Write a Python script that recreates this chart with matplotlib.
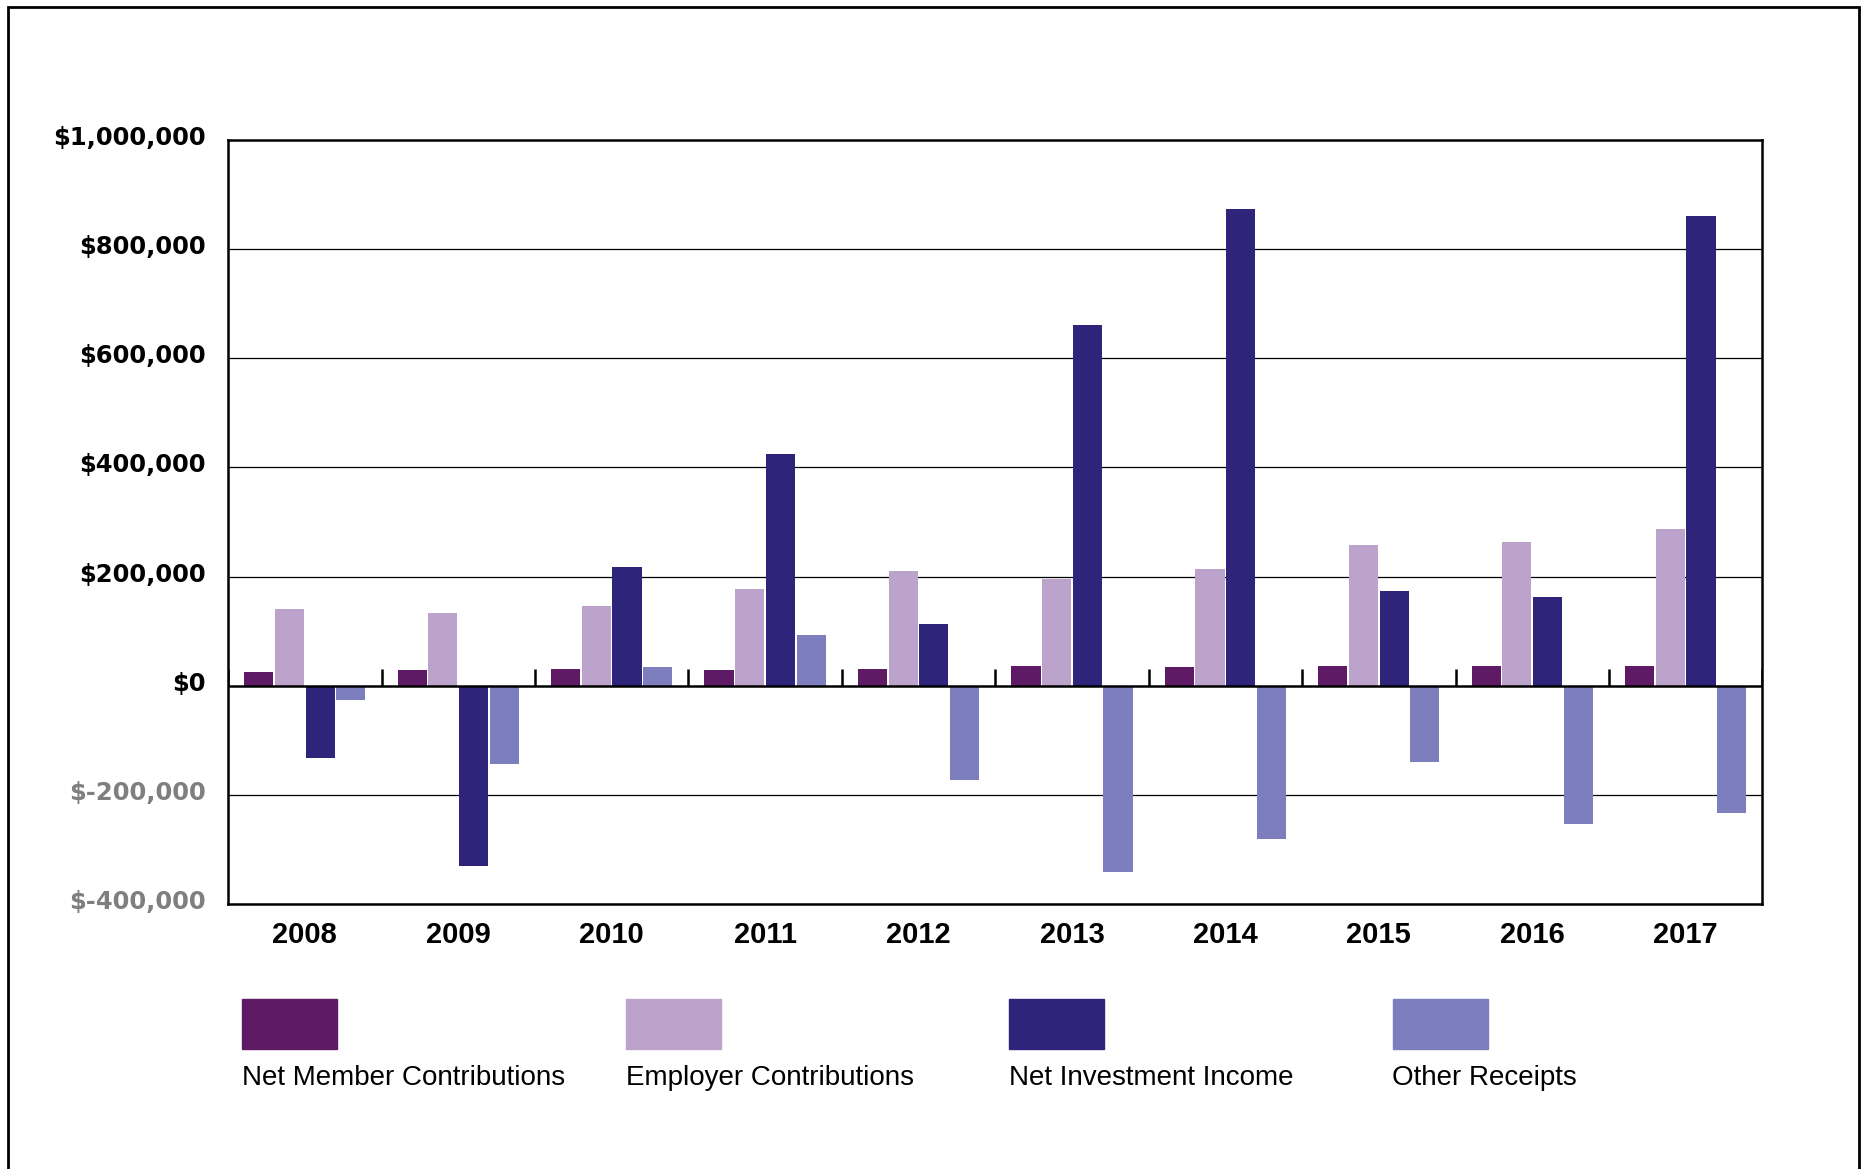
import matplotlib.pyplot as plt
from matplotlib.patches import Rectangle
import numpy as np

# data
years = ['2008', '2009', '2010', '2011', '2012', '2013', '2014', '2015', '2016', '2017']
net_member = [26000, 28000, 30000, 28000, 30000, 37000, 35000, 37000, 37000, 37000]
employer = [141000, 133000, 146000, 178000, 211000, 196000, 213000, 257000, 263000, 287000]
net_investment = [-133000, -330000, 217000, 424000, 113000, 661000, 874000, 174000, 163000, 861000]
other_receipts = [-26000, -143000, 35000, 93000, -172000, -341000, -280000, -139000, -254000, -233000]

series_names = ['Net Member Contributions', 'Employer Contributions',
                'Net Investment Income', 'Other Receipts']
series_colors = ['#5e1a64', '#bba3cc', '#2e247a', '#7c7ebe']
series_vals = [net_member, employer, net_investment, other_receipts]

y_ticks = [-400000, -200000, 0, 200000, 400000, 600000, 800000, 1000000]

fig = plt.figure(figsize=(18.62, 11.69), dpi=100)
ax = fig.add_axes([0.1225, 0.2267, 0.824, 0.6535])

x = np.arange(len(years))
w = 0.19
for k, (vals, col) in enumerate(zip(series_vals, series_colors)):
    ax.bar(x + (k - 1.5) * 0.2, vals, width=w, color=col, zorder=3)

ax.set_xlim(-0.5, len(years) - 0.5)
ax.set_ylim(-400000, 1000000)

# gridlines
for t in y_ticks[1:-1]:
    if t == 0:
        ax.axhline(0, color='black', lw=1.8, zorder=4)
    else:
        ax.axhline(t, color='black', lw=0.9, zorder=1)

# category separators on the zero line
ax.vlines(np.arange(len(years) + 1) - 0.5, 0, 30000, color='black', lw=1.8, zorder=4)

for s in ax.spines.values():
    s.set_linewidth(1.8)

# y labels written as text so they can sit a touch above the gridlines
ax.set_yticks(y_ticks)
ax.set_yticklabels([])
ax.tick_params(axis='y', length=0)
for t in y_ticks:
    ax.annotate('$' + format(t, ','), xy=(0, t), xycoords=('axes fraction', 'data'),
                xytext=(-16, 1.5), textcoords='offset points', ha='right', va='center',
                fontsize=17.5, fontweight='bold', family='DejaVu Sans',
                color='#7f7f7f' if t < 0 else 'black')

ax.set_xticks(x)
ax.set_xticklabels(years, fontsize=21, fontweight='bold', family='Liberation Sans')
ax.tick_params(axis='x', length=0, pad=12)

# legend drawn below the chart
for k, (name, col) in enumerate(zip(series_names, series_colors)):
    x0 = 242 / 1862 + k * 383.5 / 1862
    fig.patches.append(Rectangle((x0, 1 - 1049 / 1169), 95 / 1862, 50 / 1169,
                                 transform=fig.transFigure, color=col))
    fig.text(x0, 1 - 1078 / 1169, name, fontsize=20, family='Liberation Sans',
             va='center', ha='left')

# outer frame
fig.patches.append(Rectangle((8 / 1862, -0.05), 1851 / 1862, 1.05 - 7 / 1169,
                             transform=fig.transFigure, fill=False,
                             edgecolor='black', lw=2))

fig.savefig('out.png', dpi=100)
